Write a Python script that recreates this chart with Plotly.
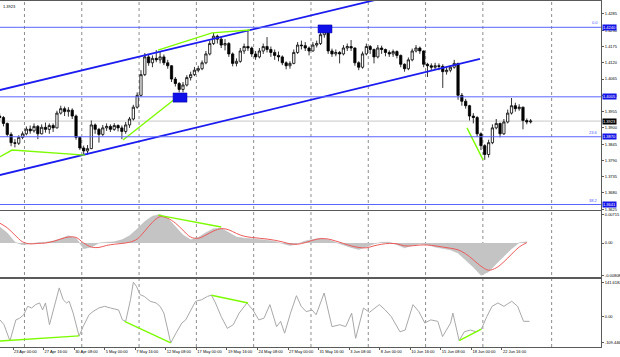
import plotly.graph_objects as go

# ---------------- data ----------------
# candle positions on an H4 bar-index axis (one candle per two H4 bars)
bar_idx = list(range(0, 280, 2))
first_open = 1.3940
close = [
    1.3935, 1.3915, 1.3878, 1.3850, 1.3848, 1.3868, 1.3880, 1.3896, 1.3890, 1.3905,
    1.3880, 1.3902, 1.3895, 1.3908, 1.3900, 1.3950, 1.3965, 1.3955, 1.3960, 1.3940,
    1.3868, 1.3832, 1.3822, 1.3830, 1.3910, 1.3895, 1.3878, 1.3900, 1.3905, 1.3895,
    1.3908, 1.3900, 1.3888, 1.3910, 1.3930, 1.3970, 1.4010, 1.4080, 1.4140, 1.4120,
    1.4135, 1.4130, 1.4140, 1.4120, 1.4110, 1.4065, 1.4050, 1.4030, 1.4045, 1.4070,
    1.4080, 1.4095, 1.4100, 1.4120, 1.4150, 1.4185, 1.4210, 1.4200, 1.4180, 1.4185,
    1.4150, 1.4118, 1.4125, 1.4160, 1.4175, 1.4170, 1.4150, 1.4140, 1.4160, 1.4175,
    1.4165, 1.4155, 1.4145, 1.4140, 1.4120, 1.4110, 1.4118, 1.4155, 1.4180, 1.4178,
    1.4170, 1.4160, 1.4180, 1.4185, 1.4215, 1.4225, 1.4160, 1.4150, 1.4155, 1.4150,
    1.4170, 1.4175, 1.4170, 1.4120, 1.4105, 1.4150, 1.4175, 1.4165, 1.4140, 1.4170,
    1.4165, 1.4155, 1.4150, 1.4158, 1.4145, 1.4115, 1.4100, 1.4130, 1.4160, 1.4170,
    1.4160, 1.4115, 1.4110, 1.4105, 1.4110, 1.4108, 1.4090, 1.4095, 1.4105, 1.4118,
    1.4010, 1.3990, 1.3975, 1.3940, 1.3935, 1.3880, 1.3840, 1.3810, 1.3850, 1.3900,
    1.3915, 1.3880, 1.3920, 1.3950, 1.3975, 1.3965, 1.3970, 1.3925, 1.3920, 1.3923,
]
high = [
    1.3950, 1.3940, 1.3918, 1.3885, 1.3862, 1.3875, 1.3888, 1.3905, 1.3908, 1.3915,
    1.3910, 1.3912, 1.3918, 1.3915, 1.3915, 1.3958, 1.3975, 1.3972, 1.3970, 1.3966,
    1.3945, 1.3870, 1.3840, 1.3842, 1.3925, 1.3915, 1.3900, 1.3910, 1.3915, 1.3912,
    1.3916, 1.3912, 1.3908, 1.3920, 1.3937, 1.3978, 1.4020, 1.4095, 1.4153, 1.4150,
    1.4145, 1.4163, 1.4158, 1.4148, 1.4130, 1.4112, 1.4072, 1.4055, 1.4055, 1.4078,
    1.4090, 1.4106, 1.4110, 1.4128, 1.4160, 1.4195, 1.4221, 1.4215, 1.4210, 1.4200,
    1.4190, 1.4155, 1.4135, 1.4170, 1.4185, 1.4231, 1.4175, 1.4160, 1.4170, 1.4185,
    1.4207, 1.4175, 1.4165, 1.4158, 1.4145, 1.4125, 1.4125, 1.4165, 1.4190, 1.4195,
    1.4190, 1.4175, 1.4190, 1.4195, 1.4222, 1.4238, 1.4228, 1.4168, 1.4165, 1.4160,
    1.4180, 1.4185, 1.4197, 1.4172, 1.4125, 1.4158, 1.4185, 1.4180, 1.4168, 1.4180,
    1.4178, 1.4168, 1.4162, 1.4165, 1.4162, 1.4148, 1.4118, 1.4138, 1.4168, 1.4180,
    1.4175, 1.4162, 1.4120, 1.4118, 1.4120, 1.4118, 1.4115, 1.4105, 1.4112, 1.4130,
    1.4120, 1.4018, 1.3998, 1.3978, 1.3950, 1.3940, 1.3885, 1.3845, 1.3860, 1.3912,
    1.3930, 1.3918, 1.3930, 1.3962, 1.4001, 1.3985, 1.3980, 1.3972, 1.3932, 1.3930,
]
low = [
    1.3925, 1.3905, 1.3870, 1.3838, 1.3834, 1.3842, 1.3862, 1.3875, 1.3880, 1.3884,
    1.3862, 1.3878, 1.3884, 1.3880, 1.3886, 1.3898, 1.3945, 1.3940, 1.3938, 1.3930,
    1.3860, 1.3825, 1.3810, 1.3810, 1.3828, 1.3880, 1.3850, 1.3872, 1.3890, 1.3886,
    1.3890, 1.3888, 1.3862, 1.3880, 1.3900, 1.3925, 1.3965, 1.4005, 1.4075, 1.4110,
    1.4105, 1.4122, 1.4118, 1.4112, 1.4100, 1.4055, 1.4040, 1.4020, 1.4020, 1.4040,
    1.4060, 1.4075, 1.4088, 1.4095, 1.4115, 1.4145, 1.4180, 1.4185, 1.4170, 1.4162,
    1.4140, 1.4108, 1.4108, 1.4120, 1.4150, 1.4160, 1.4140, 1.4130, 1.4135, 1.4150,
    1.4155, 1.4140, 1.4130, 1.4125, 1.4112, 1.4098, 1.4100, 1.4115, 1.4150, 1.4165,
    1.4160, 1.4145, 1.4158, 1.4172, 1.4180, 1.4205, 1.4150, 1.4140, 1.4142, 1.4118,
    1.4145, 1.4160, 1.4160, 1.4110, 1.4095, 1.4100, 1.4145, 1.4150, 1.4118, 1.4135,
    1.4150, 1.4142, 1.4140, 1.4140, 1.4135, 1.4105, 1.4090, 1.4095, 1.4125, 1.4155,
    1.4150, 1.4105, 1.4072, 1.4095, 1.4098, 1.4095, 1.4035, 1.4080, 1.4088, 1.4100,
    1.3995, 1.3975, 1.3965, 1.3925, 1.3915, 1.3870, 1.3825, 1.3792, 1.3800, 1.3845,
    1.3895, 1.3868, 1.3876, 1.3915, 1.3945, 1.3955, 1.3958, 1.3895, 1.3912, 1.3915,
]
open_ = [first_open] + close[:-1]

# MACD (main histogram + signal), read every 4 H4 bars
macd_idx = list(range(0, 280, 4))
macd_main = [
    0.0040, 0.0025, 0.0002, -0.0004, -0.0002, 0.0001, 0.0002, 0.0005, 0.0011, 0.0018,
    0.0012, -0.0014, -0.0010, 0.0000, 0.0002, 0.0003, 0.0008, 0.0018, 0.0035, 0.0054,
    0.0067, 0.00715, 0.0062, 0.0042, 0.0020, 0.0008, 0.0014, 0.0026, 0.0036, 0.0037,
    0.0026, 0.0015, 0.0012, 0.0011, 0.0009, 0.0007, 0.0004, -0.0001, -0.0006, -0.0002,
    0.0005, 0.0009, 0.0012, 0.0008, 0.0001, -0.0005, -0.0011, -0.0016, -0.0010, -0.0002,
    0.0002, 0.0002, -0.0004, -0.0012, -0.0006, -0.0002, -0.0004, -0.0010, -0.0014, -0.0017,
    -0.0025, -0.0042, -0.0060, -0.00808, -0.0072, -0.0052, -0.0032, -0.0014, 0.0001, 0.0003,
]
macd_signal = [
    0.0050, 0.0038, 0.0020, 0.0003, -0.0002, -0.0001, 0.0000, 0.0004, 0.0010, 0.0015,
    0.0014, 0.0000, -0.0010, -0.0011, -0.0006, -0.0003, -0.0001, 0.0002, 0.0010, 0.0030,
    0.0052, 0.0066, 0.0062, 0.0050, 0.0032, 0.0015, 0.0012, 0.0020, 0.0030, 0.0036,
    0.0033, 0.0024, 0.0017, 0.0014, 0.0012, 0.0010, 0.0007, 0.0003, -0.0002, -0.0003,
    0.0001, 0.0007, 0.0011, 0.0010, 0.0005, -0.0001, -0.0007, -0.0011, -0.0012, -0.0007,
    -0.0003, -0.0001, -0.0002, -0.0007, -0.0007, -0.0005, -0.0005, -0.0007, -0.0010, -0.0013,
    -0.0017, -0.0027, -0.0042, -0.0058, -0.0068, -0.0062, -0.0047, -0.0028, -0.0010, 0.0001,
]

# CCI turning points
cci_idx = [
    0.2, 2.3, 5.4, 8.5, 10.5, 12.6, 14.7, 16.8, 18.8, 20.9, 22.5, 24, 26.1, 28.1, 31.2,
    33.3, 35, 36.4, 38.5, 41.6, 43.7, 46.8, 48.8, 51.9, 55, 58.1, 62.3, 64.3, 66, 68.5,
    70, 71.6, 73.6, 75.7, 78.8, 81.9, 84, 86, 89.6, 92.3, 95.4, 97.4, 100.5, 102.6, 105.7,
    108.8, 110.9, 113, 116, 119.2, 122.3, 125.4, 129.5, 132.6, 135.7, 138.4, 141.5, 145,
    147.1, 149.2, 152.3, 155.4, 157.9, 160.5, 163.6, 165.7, 169.9, 174, 178.1, 181.2,
    184.3, 186.4, 190.5, 193.6, 198.8, 201.9, 205, 209.6, 212.3, 216.4, 219.5, 222.6,
    225.7, 229.4, 231.9, 236.1, 237.3, 240.6, 243.3, 246.4, 249.5, 252.2, 255.1, 257.8,
    260.9, 264, 268.1, 271.2, 274.3, 277.4,
]
cci_val = [
    -14, -34, -101, -14, -7, 7, 42, 35, 49, 56, 27, 56, -34, 27, 118,
    69, 56, 63, 14, -81, -42, 7, 20, 35, 42, 35, 27, -14, -20, 69,
    141.6, 125, 90, 83, 63, 56, 42, 14, -109.4, -69, -27, -14, 35, 63, 69,
    83, 88, 56, 0, -49, -34, 14, 56, 27, -14, -7, 49, -42,
    -20, -69, 14, 86, 42, 20, 27, 7, 97, -42, -34, -42,
    14, -90, 35, 17, 49, 27, 0, -63, -56, 49, 20, -27,
    -14, -20, -83, -27, 14, -100, -63, -56, -63, -52, 0, 42,
    56, 42, 63, 42, -20, -20,
]

# axis labels
time_labels = ["23 Apr 00:00", "27 Apr 16:00", "30 Apr 08:00", "5 May 00:00", "7 May 16:00",
               "12 May 08:00", "17 May 00:00", "19 May 16:00", "24 May 08:00", "27 May 00:00",
               "31 May 16:00", "3 Jun 08:00", "8 Jun 00:00", "10 Jun 16:00", "15 Jun 08:00",
               "18 Jun 00:00", "22 Jun 16:00"]
label_idx = [7, 23, 39, 55, 71, 87, 103, 119, 135, 151, 167, 183, 199, 215, 231, 247, 263]
week_idx = [13, 43, 73, 103, 133, 163, 193, 223, 253, 289]
price_ticks = [1.3625, 1.3680, 1.3735, 1.3790, 1.3845, 1.3900, 1.3955, 1.4010,
               1.4065, 1.4120, 1.4175, 1.4230, 1.4285]
macd_ticks = [0.00715, 0.0, -0.00808]
macd_ticktext = ["0.00715", "0.00", "-0.00808"]
cci_ticks = [141.6182, 0.0, -109.4467]
cci_ticktext = ["141.6182", "0.00", "-109.4467"]

# drawn objects
levels = [1.4240, 1.4005, 1.3870, 1.3641]
level_names = ["0.0", "", "23.6", "38.2"]
last_price = 1.3923
chan_upper_x, chan_upper_y = [0, 200], [1.40278, 1.43376]
chan_lower_x, chan_lower_y = [0, 251.5], [1.37405, 1.41329]
green_main = [
    ([0, 6.5, 44.7], [1.3802, 1.3825, 1.3808]),
    ([64.6, 94.4], [1.3859, 1.4011]),
    ([82.9, 111.2, 131.1], [1.4163, 1.4221, 1.4231]),
    ([244.7, 253.1], [1.3900, 1.3792]),
]
green_macd = [([83, 116], [0.0070, 0.0040])]
green_cci = [
    ([0.2, 41.6], [-101, -80]),
    ([65.4, 89.6], [-20, -109.4]),
    ([110.9, 130.1], [88, 56]),
    ([240.6, 252.2], [-100, -52]),
]
boxes = [([90.8, 98.1], [1.3987, 1.4018]), ([166.7, 174.0], [1.4221, 1.4248])]

# ---------------- figure ----------------
FONT = "Liberation Sans Narrow, Liberation Sans, Arial"
BLUE = "#1c1cf0"
LEVEL_BLUE = "#5a64ff"
GREEN = "#7cfc00"
FS = 4

fig = go.Figure()
fig.add_trace(go.Candlestick(
    x=bar_idx, open=open_, high=high, low=low, close=close,
    increasing=dict(line=dict(color="#000000", width=0.8), fillcolor="#ffffff"),
    decreasing=dict(line=dict(color="#000000", width=0.8), fillcolor="#000000"),
    whiskerwidth=0, xaxis="x", yaxis="y", showlegend=False, hoverinfo="skip"))

for xs, ys in [(chan_upper_x, chan_upper_y), (chan_lower_x, chan_lower_y)]:
    fig.add_trace(go.Scatter(x=xs, y=ys, mode="lines", line=dict(color=BLUE, width=1.8),
                             xaxis="x", yaxis="y", showlegend=False, hoverinfo="skip"))
for xs, ys in green_main:
    fig.add_trace(go.Scatter(x=xs, y=ys, mode="lines", line=dict(color=GREEN, width=1.4),
                             xaxis="x", yaxis="y", showlegend=False, hoverinfo="skip"))

fig.add_trace(go.Scatter(x=macd_idx, y=macd_main, mode="lines", fill="tozeroy",
                         fillcolor="#c4c4c4", line=dict(color="#b8b8b8", width=0.5),
                         xaxis="x2", yaxis="y2", showlegend=False, hoverinfo="skip"))
fig.add_trace(go.Scatter(x=macd_idx, y=macd_signal, mode="lines",
                         line=dict(color="#ec5a5a", width=1, shape="spline"),
                         xaxis="x2", yaxis="y2", showlegend=False, hoverinfo="skip"))
for xs, ys in green_macd:
    fig.add_trace(go.Scatter(x=xs, y=ys, mode="lines", line=dict(color=GREEN, width=1.4),
                             xaxis="x2", yaxis="y2", showlegend=False, hoverinfo="skip"))

fig.add_trace(go.Scatter(x=cci_idx, y=cci_val, mode="lines",
                         line=dict(color="#a8a8a8", width=1),
                         xaxis="x3", yaxis="y3", showlegend=False, hoverinfo="skip"))
for xs, ys in green_cci:
    fig.add_trace(go.Scatter(x=xs, y=ys, mode="lines", line=dict(color=GREEN, width=1.4),
                             xaxis="x3", yaxis="y3", showlegend=False, hoverinfo="skip"))

shapes = []
for wx in week_idx:
    shapes.append(dict(type="line", xref="x", yref="paper", x0=wx, x1=wx, y0=0, y1=1,
                       line=dict(color="#707070", width=0.8, dash="dot"), layer="below"))
shapes.append(dict(type="line", xref="x domain", yref="y", x0=0, x1=1,
                   y0=last_price, y1=last_price, line=dict(color="#c8c8c8", width=1),
                   layer="below"))
for lv in levels:
    shapes.append(dict(type="line", xref="x domain", yref="y", x0=0, x1=1, y0=lv, y1=lv,
                       line=dict(color=LEVEL_BLUE, width=1)))
for xs, ys in boxes:
    shapes.append(dict(type="rect", xref="x", yref="y", x0=xs[0], x1=xs[1], y0=ys[0], y1=ys[1],
                       fillcolor="#1010e8", line=dict(color="#0000a0", width=0.5)))

annotations = []
for lv in levels:
    annotations.append(dict(x=1, xref="paper", y=lv, yref="y", xanchor="left", yanchor="middle",
                            text=f"{lv:.4f}", showarrow=False, xshift=1,
                            font=dict(family=FONT, size=FS, color="#ffffff"),
                            bgcolor="#1414e6", borderpad=0))
for lv, nm in zip(levels, level_names):
    if nm:
        annotations.append(dict(x=0.998, xref="paper", y=lv, yref="y", xanchor="right",
                                yanchor="bottom", text=nm, showarrow=False,
                                font=dict(family=FONT, size=FS, color="#4a55ff")))
annotations.append(dict(x=1, xref="paper", y=last_price, yref="y", xanchor="left",
                        yanchor="middle", text=f"{last_price:.4f}", showarrow=False, xshift=1,
                        font=dict(family=FONT, size=FS, color="#ffffff"),
                        bgcolor="#000000", borderpad=0))
annotations.append(dict(x=0.002, xref="paper", y=0.997, yref="paper", xanchor="left",
                        yanchor="top", text="1.3923", showarrow=False,
                        font=dict(family=FONT, size=FS, color="#000000")))

axis_common = dict(showgrid=False, zeroline=False, showline=True, mirror=True,
                   linecolor="#5a5a5a", linewidth=1, automargin=False)
yfont = dict(family=FONT, size=FS, color="#000000")

fig.update_layout(
    width=620, height=357,
    margin=dict(l=0, r=19, t=1, b=10, autoexpand=False),
    paper_bgcolor="#ffffff", plot_bgcolor="#ffffff",
    showlegend=False, boxgap=0.15,
    xaxis=dict(domain=[0, 1], range=[0.19, 314.85], anchor="y", showticklabels=False,
               rangeslider=dict(visible=False), ticks="", **axis_common),
    xaxis2=dict(domain=[0, 1], matches="x", anchor="y2", showticklabels=False, ticks="",
                **axis_common),
    xaxis3=dict(domain=[0, 1], matches="x", anchor="y3", tickmode="array",
                tickvals=label_idx, ticktext=time_labels, ticks="outside", ticklen=2,
                tickangle=0, tickcolor="#5a5a5a", ticklabelposition="outside right",
                tickfont=dict(family=FONT, size=FS, color="#000000"), **axis_common),
    yaxis=dict(domain=[0.396, 1], range=[1.36225, 1.43289], anchor="x", side="right",
               tickmode="array", tickvals=price_ticks,
               ticktext=[f"{v:.4f}" for v in price_ticks], ticks="outside", ticklen=2,
               tickcolor="#5a5a5a", tickfont=yfont, **axis_common),
    yaxis2=dict(domain=[0.2, 0.394], range=[-0.0087, 0.0081], anchor="x2", side="right",
                tickmode="array", tickvals=macd_ticks, ticktext=macd_ticktext,
                ticks="outside", ticklen=2, tickcolor="#5a5a5a", tickfont=yfont, **axis_common),
    yaxis3=dict(domain=[0, 0.198], range=[-126, 157], anchor="x3", side="right",
                tickmode="array", tickvals=cci_ticks, ticktext=cci_ticktext,
                ticks="outside", ticklen=2, tickcolor="#5a5a5a", tickfont=yfont, **axis_common),
    shapes=shapes, annotations=annotations,
)

fig.write_html("out.html", config={"displayModeBar": False, "staticPlot": True},
               post_script="document.body.style.margin='0';document.body.style.overflow='hidden';")
